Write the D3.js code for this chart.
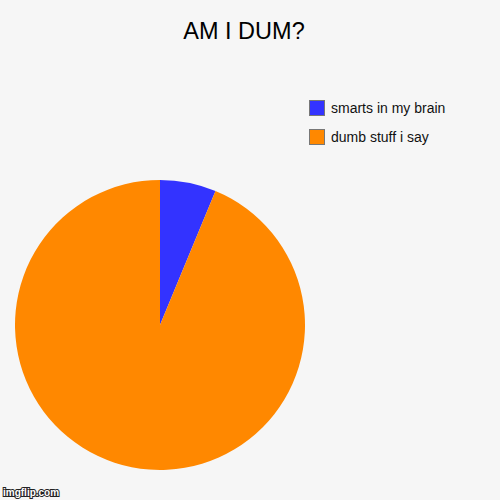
<!DOCTYPE html>
<html><head><meta charset="utf-8">
<script src="https://cdn.jsdelivr.net/npm/d3@7"></script>
<style>body{margin:0;background:#f6f6f6;}svg{display:block;}</style>
</head><body>
<script>
const title = "AM I DUM?";
const categories = ["smarts in my brain", "dumb stuff i say"];
const values = [1, 15];
const colors = ["#3333ff", "#ff8800"];

const W = 500, H = 500;
const svg = d3.select("body").append("svg").attr("width", W).attr("height", H)
  .style("font-family", "'Liberation Sans', Arial, sans-serif");
svg.append("rect").attr("width", W).attr("height", H).attr("fill", "#f6f6f6");

svg.append("text").attr("x", 244).attr("y", 39).attr("text-anchor", "middle")
  .attr("font-size", 23.5).attr("fill", "#000").text(title);

const cx = 160, cy = 325, r = 145;
const pie = d3.pie().sort(null).value(d => d)(values);
const arc = d3.arc().innerRadius(0).outerRadius(r);
const color = d3.scaleOrdinal().domain(categories).range(colors);
svg.append("g").attr("transform", `translate(${cx},${cy})`)
  .selectAll("path").data(pie).join("path")
  .attr("d", arc).attr("fill", (d, i) => color(categories[i]));

const leg = svg.append("g").attr("transform", "translate(309,100)");
const items = leg.selectAll("g").data(categories).join("g")
  .attr("transform", (d, i) => `translate(0,${i * 29})`);
items.append("rect").attr("x", 0.5).attr("y", 0.5).attr("width", 15).attr("height", 15)
  .attr("fill", d => color(d)).attr("stroke", "#777").attr("stroke-width", 1);
items.append("text").attr("x", 22).attr("y", 13).attr("font-size", 14).attr("fill", "#111").text(d => d);

svg.append("text").attr("x", 3).attr("y", 496).attr("font-size", 10).attr("font-weight", "bold")
  .attr("fill", "#fff").attr("stroke", "#222").attr("stroke-width", 2).attr("paint-order", "stroke")
  .text("imgflip.com");
</script>
</body></html>
